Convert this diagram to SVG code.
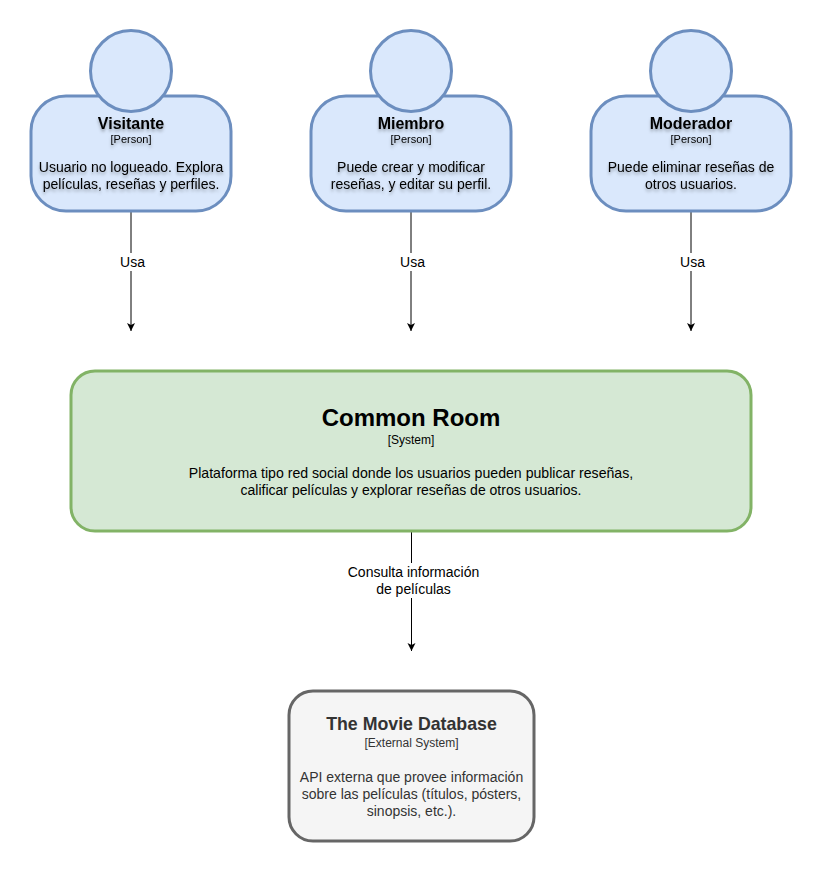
<svg xmlns="http://www.w3.org/2000/svg" width="823" height="873" viewBox="0 0 823 873">
<style>
text{font-family:"Liberation Sans",Arial,sans-serif;text-anchor:middle;fill:#000}
.person rect,.person circle{fill:#dae8fc;stroke:#6c8ebf;stroke-width:3}
.t{font-size:16px;font-weight:bold}
.s{font-size:11px}
.m{font-size:12px}
.d{font-size:14px}
.w{font-size:14.13px}
.l{font-size:14px}
.shadow text{filter:url(#ts)}
.conn{stroke:#000;stroke-width:1;fill:none;marker-end:url(#arrow)}
.lbg{fill:#fff}
</style>
<defs>
<marker id="arrow" markerUnits="userSpaceOnUse" markerWidth="9" markerHeight="10" refX="8" refY="4" orient="auto"><path d="M0 0L8 4L0 8L2 4Z" fill="#000"/></marker>
<filter id="ts" x="-10%" y="-40%" width="120%" height="200%"><feDropShadow dx="0" dy="2.500" stdDeviation="1.800" flood-color="#000" flood-opacity="0.3"/></filter>
</defs>
<g id="connectors">
<path class="conn" d="M131 211V331"/>
<path class="conn" d="M411 211V331"/>
<path class="conn" d="M691 211V331"/>
<path class="conn" d="M411.500 531V651"/>
<rect class="lbg" x="118" y="253" width="28" height="18"/>
<rect class="lbg" x="398" y="253" width="28" height="18"/>
<rect class="lbg" x="678" y="253" width="28" height="18"/>
<rect class="lbg" x="346" y="563" width="134" height="35"/>
<text class="l" x="132.500" y="267">Usa</text>
<text class="l" x="412.500" y="267">Usa</text>
<text class="l" x="692.500" y="267">Usa</text>
<text class="l" x="413.500" y="577">Consulta información</text>
<text class="l" x="413.500" y="594">de películas</text>
</g>
<g id="visitante" class="person shadow">
<rect x="31" y="96" width="200" height="115" rx="35" ry="35"/>
<circle cx="131" cy="71" r="40.500"/>
<text class="t" x="131" y="129">Visitante</text>
<text class="s" x="131" y="143">[Person]</text>
<text class="d" x="131" y="172">Usuario no logueado. Explora</text>
<text class="d" x="131" y="189">películas, reseñas y perfiles.</text>
</g>
<g id="miembro" class="person shadow">
<rect x="311" y="96" width="200" height="115" rx="35" ry="35"/>
<circle cx="411" cy="71" r="40.500"/>
<text class="t" x="411" y="129">Miembro</text>
<text class="s" x="411" y="143">[Person]</text>
<text class="d" x="411" y="172">Puede crear y modificar</text>
<text class="d" x="411" y="189">reseñas, y editar su perfil.</text>
</g>
<g id="moderador" class="person shadow">
<rect x="591" y="96" width="200" height="115" rx="35" ry="35"/>
<circle cx="691" cy="71" r="40.500"/>
<text class="t" x="691" y="129">Moderador</text>
<text class="s" x="691" y="143">[Person]</text>
<text class="d" x="691" y="172">Puede eliminar reseñas de</text>
<text class="d" x="691" y="189">otros usuarios.</text>
</g>
<g id="common-room">
<rect x="71" y="371" width="680" height="160" rx="24" ry="24" fill="#d5e8d4" stroke="#82b366" stroke-width="3"/>
<text x="411" y="426" font-size="24" font-weight="bold">Common Room</text>
<text class="m" x="411" y="444">[System]</text>
<text class="w" x="411" y="478">Plataforma tipo red social donde los usuarios pueden publicar reseñas,</text>
<text class="d" x="411" y="495">calificar películas y explorar reseñas de otros usuarios.</text>
</g>
<g id="tmdb">
<rect x="289" y="691" width="245" height="150" rx="24" ry="24" fill="#f5f5f5" stroke="#666" stroke-width="3"/>
<text x="411.500" y="730" font-size="17.750" font-weight="bold" style="fill:#333">The Movie Database</text>
<text class="m" x="411.500" y="747" style="fill:#333">[External System]</text>
<text class="d" x="411.500" y="782" style="fill:#333">API externa que provee información</text>
<text class="d" x="411.500" y="799" style="fill:#333">sobre las películas (títulos, pósters,</text>
<text class="d" x="411.500" y="816" style="fill:#333">sinopsis, etc.).</text>
</g>
</svg>
